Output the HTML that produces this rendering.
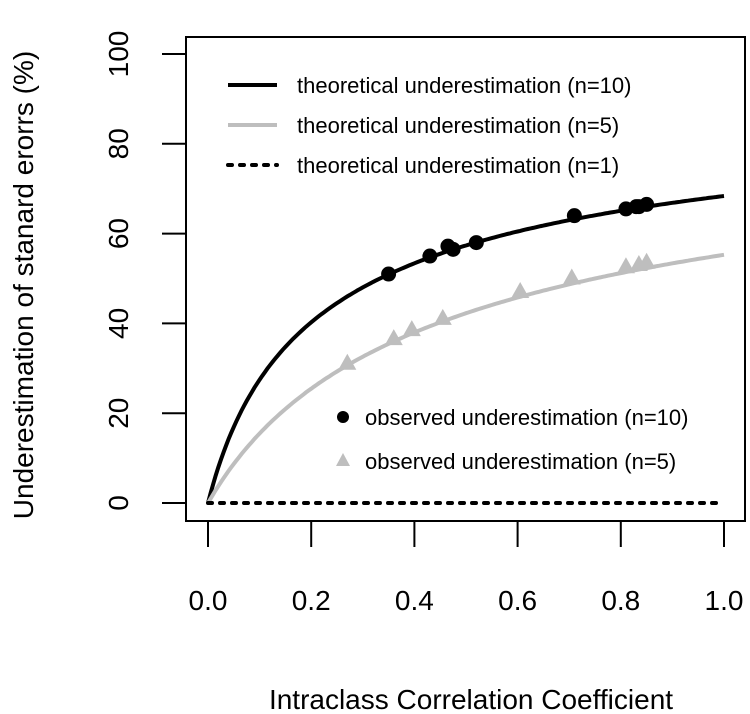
<!DOCTYPE html>
<html><head><meta charset="utf-8"><style>
body{margin:0;background:#fff}
svg{display:block;font-family:"Liberation Sans",Arial,sans-serif}
</style></head><body>
<svg id="c" width="750" height="714" viewBox="0 0 750 714">
<rect x="186" y="37" width="559" height="484" fill="none" stroke="#000" stroke-width="2"/>
<g id="axes"></g>
<g id="curves"></g>
<g id="pts"></g>
<text x="471" y="709" font-size="28" text-anchor="middle">Intraclass Correlation Coefficient</text>
<text transform="translate(33,285) rotate(-90)" font-size="28" text-anchor="middle">Underestimation of stanard erorrs (%)</text>
<g>
<line x1="228" y1="85" x2="277" y2="85" stroke="#000" stroke-width="4"/>
<text x="297" y="93" font-size="22">theoretical underestimation (n=10)</text>
<line x1="228" y1="125" x2="277" y2="125" stroke="#bebebe" stroke-width="4"/>
<text x="297" y="133" font-size="22">theoretical underestimation (n=5)</text>
<line x1="228" y1="165" x2="277" y2="165" stroke="#000" stroke-width="4" stroke-dasharray="4,8" stroke-linecap="round"/>
<text x="297" y="173" font-size="22">theoretical underestimation (n=1)</text>
</g>
<g>
<circle cx="343" cy="417" r="6" fill="#000"/>
<text x="365" y="425" font-size="22">observed underestimation (n=10)</text>
<polygon points="343,453 350,466 336,466" fill="#bebebe"/>
<text x="365" y="469" font-size="22">observed underestimation (n=5)</text>
</g>
</svg>
<script>
const xTicks=[0,0.2,0.4,0.6,0.8,1.0];
const xTickLabels=["0.0","0.2","0.4","0.6","0.8","1.0"];
const yTicks=[0,20,40,60,80,100];
const yTickLabels=["0","20","40","60","80","100"];
const obs10X=[0.35,0.43,0.465,0.475,0.52,0.71,0.81,0.83,0.835,0.85];
const obs10Y=[51,55,57.2,56.5,58,64,65.5,66,66,66.5];
const obs5X=[0.27,0.36,0.395,0.455,0.605,0.705,0.81,0.835,0.85];
const obs5Y=[31,36.5,38.5,41,47,50,52.5,53,53.5];
const groupSizes=[10,5,1];
const X=v=>208+v*516, Y=v=>503-v*4.49;
const NS="http://www.w3.org/2000/svg";
function mk(t,a,p){const e=document.createElementNS(NS,t);for(const k in a)e.setAttribute(k,a[k]);p.appendChild(e);return e;}
const ax=document.getElementById('axes');
xTicks.forEach((v,i)=>{
 const l=mk('line',{x1:X(v),x2:X(v),y1:521,y2:547,stroke:'#000','stroke-width':2},ax);
 
 
 const t=mk('text',{x:X(v),y:610,'font-size':28,'text-anchor':'middle'},ax);t.textContent=xTickLabels[i];
 
 
});
yTicks.forEach((v,i)=>{
 const l=mk('line',{x1:162,x2:186,y1:Y(v),y2:Y(v),stroke:'#000','stroke-width':2},ax);
 
 
 const t=mk('text',{transform:`translate(128,${Y(v)}) rotate(-90)`,'font-size':28,'text-anchor':'middle'},ax);t.textContent=yTickLabels[i];
 
 
});
const cv=document.getElementById('curves');
const styles=[{stroke:'#000'},{stroke:'#bebebe'},{stroke:'#000','stroke-dasharray':'4,8','stroke-linecap':'round'}];
groupSizes.forEach((n,k)=>{
 let d='';for(let i=0;i<=200;i++){const r=i/200;const u=100*(1-1/Math.sqrt(1+(n-1)*r));d+=(i?'L':'M')+X(r).toFixed(1)+','+Y(u).toFixed(1);}
 const p=mk('path',Object.assign({d,fill:'none','stroke-width':4},styles[k]),cv);
 
 
});
const pg=document.getElementById('pts');
obs5X.forEach((x,i)=>{const cx=X(x),cy=Y(obs5Y[i]);
 const p=mk('polygon',{points:`${cx},${cy-10} ${cx+9},${cy+6} ${cx-9},${cy+6}`,fill:'#bebebe'},pg);
 
 });
obs10X.forEach((x,i)=>{
 const c=mk('circle',{cx:X(x),cy:Y(obs10Y[i]),r:7.5,fill:'#000'},pg);
 
 });
</script>
</body></html>
